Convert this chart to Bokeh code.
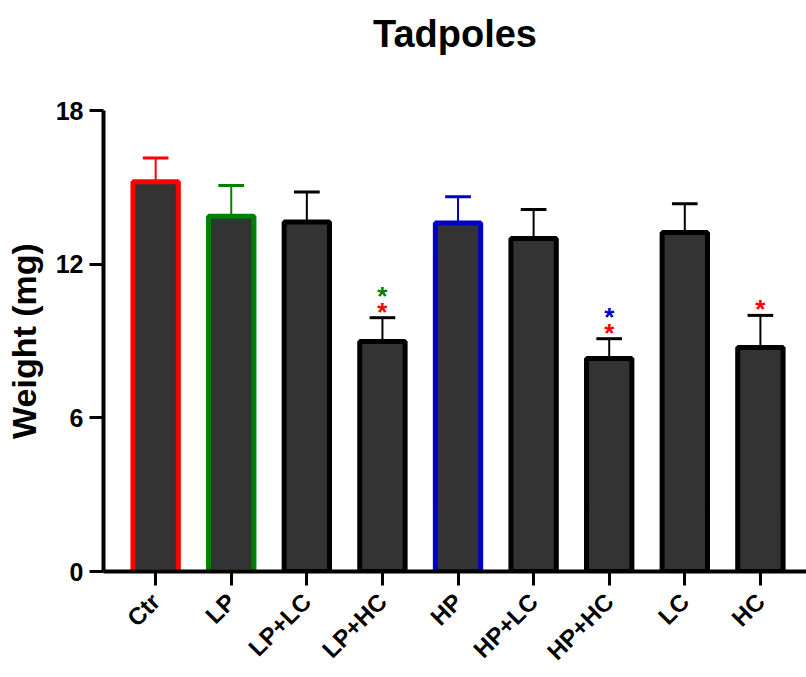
from bokeh.plotting import figure
from bokeh.models import Range1d, FixedTicker, ColumnDataSource, Whisker, LinearAxis
from bokeh.core.properties import value
from bokeh.embed import file_html
from bokeh.resources import INLINE

groups = ["Ctr", "LP", "LP+LC", "LP+HC", "HP", "HP+LC", "HP+HC", "LC", "HC"]
means = [15.22, 13.87, 13.65, 8.98, 13.61, 13.0, 8.32, 13.24, 8.75]
err_top = [16.15, 15.07, 14.82, 9.91, 14.63, 14.13, 9.09, 14.36, 10.0]
edge_colors = ["#ff0000", "#008000", "#000000", "#000000", "#0000c8",
               "#000000", "#000000", "#000000", "#000000"]
# significance stars: (group index, colour, stacking level)
stars = [(3, "#ff0000", 0), (3, "#008000", 1), (6, "#ff0000", 0),
         (6, "#0000c8", 1), (8, "#ff0000", 0)]
y_ticks = [0, 6, 12, 18]
title = "Tadpoles"

FONT = "Liberation Sans"

x = list(range(len(groups)))
src = ColumnDataSource(dict(x=x, top=means, upper=err_top, lower=means,
                            color=edge_colors))

p = figure(width=806, height=677, output_backend="svg", toolbar_location=None,
           x_range=Range1d(-0.69, 8.61), y_range=Range1d(0, 18),
           min_border_left=103, min_border_right=0, min_border_top=110,
           min_border_bottom=102)
p.outline_line_color = None
p.grid.grid_line_color = None
p.background_fill_color = "white"

p.vbar(x="x", top="top", bottom=0, width=0.6, source=src,
       fill_color="#333333", line_color="color", line_width=5)

w = Whisker(base="x", upper="upper", lower="lower", source=src,
            line_color="color", line_width=2,
            upper_head=None, lower_head=None)
p.add_layout(w)
# caps
p.segment(x0=[i - 0.17 for i in x], x1=[i + 0.17 for i in x], y0=err_top, y1=err_top,
          line_color=edge_colors, line_width=3)

sx = [s[0] for s in stars]
sy = [err_top[s[0]] for s in stars]
sc = [s[1] for s in stars]
so = [-6 - 16 * s[2] for s in stars]
p.text(x=sx, y=sy, text=["*"] * len(stars), text_color=sc, y_offset=so,
       text_align="center", text_baseline="middle",
       text_font=value(FONT), text_font_size="26px", text_font_style="bold")

# axes
p.xaxis.ticker = FixedTicker(ticks=x)
p.xaxis.major_label_overrides = {i: g for i, g in enumerate(groups)}
p.xaxis.major_label_orientation = 0.785
p.yaxis.ticker = FixedTicker(ticks=y_ticks)
for ax in (p.xaxis[0], p.yaxis[0]):
    ax.axis_line_width = 4
    ax.axis_line_color = "black"
    ax.major_tick_line_width = 3
    ax.major_tick_line_color = "black"
    ax.major_tick_out = 14
    ax.major_tick_in = 0
    ax.minor_tick_line_color = None
    ax.major_label_text_font = FONT
    ax.major_label_text_font_style = "bold"
    ax.major_label_text_color = "black"
p.xaxis.major_label_text_font_size = "24px"
p.xaxis.major_label_standoff = 12
p.yaxis.major_label_text_font_size = "25px"
p.yaxis.major_label_standoff = 6
p.yaxis.axis_label = "Weight (mg)"
p.yaxis.axis_label_text_font = FONT
p.yaxis.axis_label_text_font_style = "bold"
p.yaxis.axis_label_text_font_size = "34px"
p.yaxis.axis_label_text_color = "black"
p.yaxis.axis_label_standoff = 10

# chart title as the label of an invisible top axis
top_ax = LinearAxis(ticker=FixedTicker(ticks=[]), axis_line_color=None,
                    major_tick_line_color=None, minor_tick_line_color=None,
                    major_tick_out=0, major_tick_in=0, major_label_standoff=0,
                    major_label_text_font_size="0px",
                    axis_label=title, axis_label_standoff=56,
                    axis_label_text_font=FONT, axis_label_text_font_style="bold",
                    axis_label_text_font_size="38px",
                    axis_label_text_color="black")
p.add_layout(top_ax, "above")

open("out.html", "w").write(file_html(p, INLINE))
